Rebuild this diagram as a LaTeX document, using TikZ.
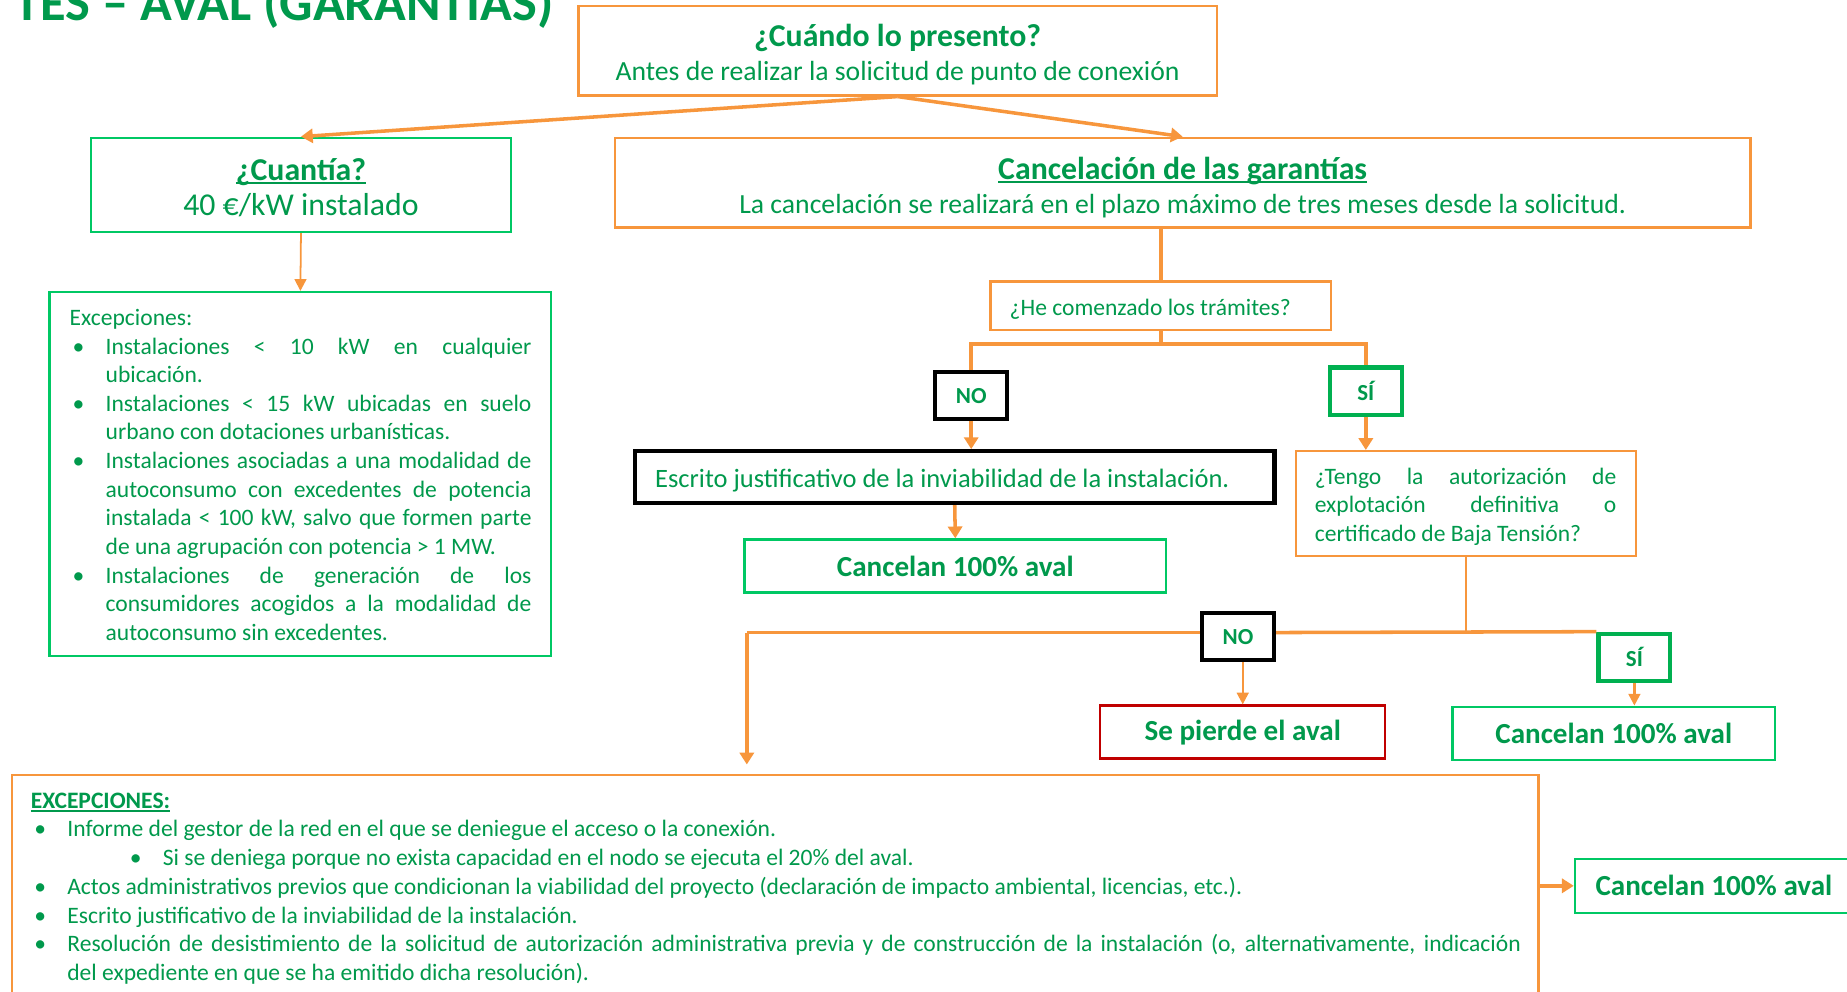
\documentclass[tikz,border=0pt]{standalone}
\usepackage{fontspec}
\setmainfont{Carlito}
\usepackage{tikz}
\usetikzlibrary{positioning}
\usetikzlibrary{arrows.meta}

\definecolor{lineOrange}{RGB}{247,150,60}
\definecolor{textGreen}{RGB}{0,153,76}
\definecolor{boxGreen}{RGB}{0,200,100}
\definecolor{siGreen}{RGB}{0,176,80}
\definecolor{lossRed}{RGB}{192,0,0}

% underlined heading
\newcommand{\underText}[1]{\setbox0\hbox{#1}\leavevmode\rlap{\rule[-3.2pt]{\wd0}{1.4pt}}\box0}
% bullet item: #1 bullet offset, #2 text indent, #3 text
\newcommand{\listItem}[3]{\par\noindent\hangindent=#2\hangafter=1\hspace*{#1}\makebox[\dimexpr#2-#1\relax][l]{\textbullet}#3\par}

\tikzset{
  frameBox/.style={rectangle, draw=lineOrange, line width=2pt, fill=white, inner sep=0pt, text=textGreen},
  greenBox/.style={frameBox, draw=boxGreen},
  blackBox/.style={frameBox, draw=black, line width=3.5pt},
  answerBox/.style={frameBox, line width=3.5pt, minimum width=61pt, minimum height=40pt, font=\fontsize{19.5}{23}\selectfont\bfseries},
  resultBox/.style={greenBox, font=\fontsize{24.7}{29}\selectfont\bfseries},
  boxText/.style={text=textGreen, inner sep=0pt},
  link/.style={draw=lineOrange, line width=3pt},
  flow/.style={link, -{Triangle[width=12pt,length=10pt]}},
  thinFlow/.style={draw=lineOrange, line width=1.5pt, -{Triangle[width=10pt,length=10pt]}}
}

\begin{document}
\begin{tikzpicture}[x=1pt, y=-1pt]
		\useasboundingbox (0,0) rectangle (1568,842);
		\node[boxText, anchor=base east, font=\fontsize{44.5}{50}\selectfont\bfseries](titleText) at (470,17){TES – AVAL (GARANTÍAS)};
		% top row
		\node[frameBox, minimum width=542, minimum height=76](cuandoBox) at (762,43){};
		\node[boxText, anchor=base, font=\fontsize{27}{32}\selectfont\bfseries](cuandoTitle) at (762,39.5){¿Cuándo lo presento?};
		\node[boxText, anchor=base, font=\fontsize{23.5}{28}\selectfont](cuandoText) at (762,68){Antes de realizar la solicitud de punto de conexión};
		\node[greenBox, minimum width=357, minimum height=80](cuantiaBox) at (255.5,157){};
		\node[boxText, anchor=base, font=\fontsize{27}{32}\selectfont\bfseries](cuantiaTitle) at (255.5,153){\underText{¿Cuantía?}};
		\node[boxText, anchor=base, font=\fontsize{27}{32}\selectfont](cuantiaText) at (255.5,183){40 €/kW instalado};
		\node[frameBox, minimum width=964, minimum height=76](cancelBox) at (1004,155){};
		\node[boxText, anchor=base, font=\fontsize{27}{32}\selectfont\bfseries](cancelTitle) at (1004,152){\underText{Cancelación de las garantías}};
		\node[boxText, anchor=base, font=\fontsize{23.5}{28}\selectfont](cancelText) at (1004,181){La cancelación se realizará en el plazo máximo de tres meses desde la solicitud.};
		% left exceptions
		\node[greenBox, minimum width=426, minimum height=309](excBox) at (255,402.5){};
		\node[boxText, anchor=base west, text width=392, align=justify, font=\fontsize{20}{24.3}\selectfont](excText) at (59,276.3){Excepciones:
			\listItem{2.5pt}{30.5pt}{Instalaciones < 10 kW en cualquier\linebreak ubicación.}
			\listItem{2.5pt}{30.5pt}{Instalaciones < 15 kW ubicadas en suelo\linebreak urbano con dotaciones urbanísticas.}
			\listItem{2.5pt}{30.5pt}{Instalaciones asociadas a una modalidad de\linebreak autoconsumo con excedentes de potencia\linebreak instalada < 100 kW, salvo que formen parte\linebreak de una agrupación con potencia > 1 MW.}
			\listItem{2.5pt}{30.5pt}{Instalaciones de generación de los\linebreak consumidores acogidos a la modalidad de\linebreak autoconsumo sin excedentes.}};
		% first question
		\node[frameBox, minimum width=289, minimum height=41](heBox) at (985.5,259.5){};
		\node[boxText, anchor=base west, font=\fontsize{20}{24.3}\selectfont](heText) at (857,268){¿He comenzado los trámites?};
		\node[answerBox, draw=black](noBox) at (824.5,336){NO};
		\node[answerBox, draw=siGreen](siBox) at (1159.5,332){SÍ};
		\node[blackBox, minimum width=543, minimum height=44](escritoBox) at (810.5,405){};
		\node[boxText, anchor=base west, font=\fontsize{22.5}{27}\selectfont](escritoText) at (556,414){Escrito justificativo de la inviabilidad de la instalación.};
		\node[resultBox, minimum width=358, minimum height=45](cancelOneBox) at (811,480.5){Cancelan 100\% aval};
		% second question
		\node[frameBox, minimum width=289, minimum height=89](tengoBox) at (1244.5,427.5){};
		\node[boxText, anchor=base west, text width=256, align=justify, font=\fontsize{20}{24.4}\selectfont](tengoText) at (1116,411){¿Tengo la autorización de\linebreak explotación definitiva o\linebreak certificado de Baja Tensión?};
		\node[answerBox, draw=black](noTwoBox) at (1051,540.5){NO};
		\node[answerBox, draw=siGreen](siTwoBox) at (1387.5,558){SÍ};
		\node[frameBox, draw=lossRed, font=\fontsize{24.7}{29}\selectfont\bfseries, minimum width=242, minimum height=45](pierdeBox) at (1055,621.5){Se pierde el aval};
		\node[resultBox, minimum width=274, minimum height=45](cancelTwoBox) at (1370,622.5){Cancelan 100\% aval};
		% bottom exceptions
		\node[frameBox, minimum width=1296, minimum height=222](bottomBox) at (658,769){};
		\node[boxText, anchor=base west, text width=1265, align=justify, font=\fontsize{20}{24.4}\selectfont](bottomText) at (26,686){{\bfseries\underText{EXCEPCIONES:}}
			\listItem{3pt}{31pt}{Informe del gestor de la red en el que se deniegue el acceso o la conexión.}
			\listItem{84pt}{112pt}{Si se deniega porque no exista capacidad en el nodo se ejecuta el 20\% del aval.}
			\listItem{3pt}{31pt}{Actos administrativos previos que condicionan la viabilidad del proyecto (declaración de impacto ambiental, licencias, etc.).}
			\listItem{3pt}{31pt}{Escrito justificativo de la inviabilidad de la instalación.}
			\listItem{3pt}{31pt}{Resolución de desistimiento de la solicitud de autorización administrativa previa y de construcción de la instalación (o, alternativamente, indicación\linebreak del expediente en que se ha emitido dicha resolución).}};
		\node[resultBox, minimum width=236, minimum height=46](cancelThreeBox) at (1455,752){Cancelan 100\% aval};
		% connectors
		\coordinate(heSplit) at (985.5,292);
		\coordinate(tengoSplit) at (1244.5,537);
		\coordinate(leftTurn) at (634,537);
		\draw[flow] (cuandoBox.south) -- (cuantiaBox.north);
		\draw[flow] (cuandoBox.south) -- (cancelBox.north);
		\draw[thinFlow] (cuantiaBox.south) -- (excBox.north);
		\draw[link] (heBox.north |- cancelBox.south) -- (heBox.north);
		\draw[link] (heBox.south) -- (heSplit);
		\draw[link] (noBox.north) |- (heSplit) -| (siBox.north);
		\draw[flow] (noBox.south) -- (noBox.south |- escritoBox.north);
		\draw[flow] (escritoBox.south) -- (cancelOneBox.north);
		\draw[flow] (siBox.south) -- (siBox.south |- tengoBox.north);
		\draw[link, line width=2pt] (tengoBox.south) -- (tengoSplit);
		\draw[link] (siTwoBox.north west) -- (noTwoBox.east |- tengoSplit);
		\draw[link] (noTwoBox.west |- tengoSplit) -- (leftTurn);
		\draw[flow, shorten >=8pt] (leftTurn) -- (leftTurn |- bottomBox.north);
		\draw[thinFlow, line width=2pt] (pierdeBox.north |- noTwoBox.south) -- (pierdeBox.north);
		\draw[thinFlow, line width=2pt] (siTwoBox.south) -- (siTwoBox.south |- cancelTwoBox.north);
		\draw[flow] (bottomBox.east |- cancelThreeBox.west) -- (cancelThreeBox.west);
	\end{tikzpicture}
\end{document}
